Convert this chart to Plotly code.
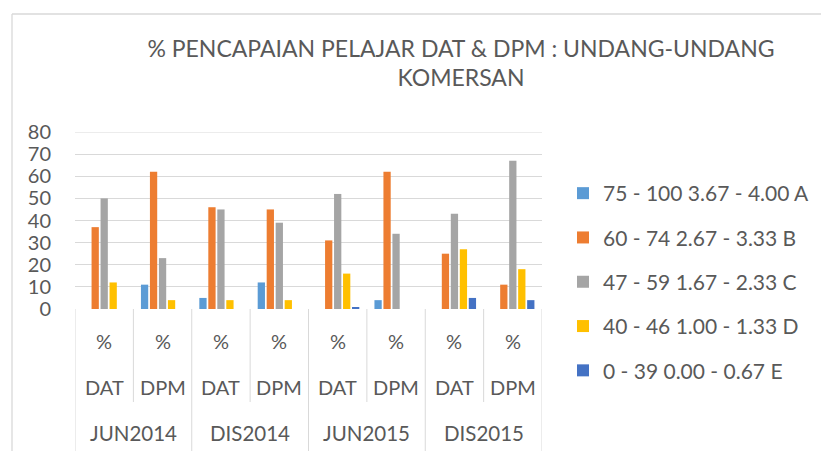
import plotly.graph_objects as go

# ---- data ----
periods = ["JUN2014", "JUN2014", "DIS2014", "DIS2014", "JUN2015", "JUN2015", "DIS2015", "DIS2015"]
programs = ["DAT", "DPM", "DAT", "DPM", "DAT", "DPM", "DAT", "DPM"]
top_row = ["%", "%", "%", "%", "%", "%", "%", "%"]
period_labels = ["JUN2014", "DIS2014", "JUN2015", "DIS2015"]

series_names = [
    "75 - 100 3.67 - 4.00 A",
    "60 - 74 2.67 - 3.33 B",
    "47 - 59 1.67 - 2.33 C",
    "40 - 46 1.00 - 1.33 D",
    "0 - 39 0.00 - 0.67 E",
]
grade_a = [0, 11, 5, 12, 0, 4, 0, 0]
grade_b = [37, 62, 46, 45, 31, 62, 25, 11]
grade_c = [50, 23, 45, 39, 52, 34, 43, 67]
grade_d = [12, 4, 4, 4, 16, 0, 27, 18]
grade_e = [0, 0, 0, 0, 0.6, 0, 5, 4]
series_values = [grade_a, grade_b, grade_c, grade_d, grade_e]
colors = ["#5B9BD5", "#ED7D31", "#A5A5A5", "#FFC000", "#4472C4"]

title_text = "% PENCAPAIAN PELAJAR DAT & DPM : UNDANG-UNDANG<br>KOMERSAN"
y_max = 80

# ---- figure ----
W, H = 821, 451
L, R, T, B = 75, 279, 132, 142
plot_h = H - T - B
FONT = "Lato, 'Open Sans', sans-serif"
TXT = "#595959"
GRID = "#D9D9D9"

cats = [f"{p} {g}" for p, g in zip(periods, programs)]

fig = go.Figure()
for i, (name, vals, col) in enumerate(zip(series_names, series_values, colors)):
    fig.add_trace(go.Bar(
        x=cats, y=vals, name=name, marker_color=col,
        marker_line_width=0, legendgroup=f"g{i}",
    ))

def py(pix):
    return (H - B - pix) / plot_h

shapes = []
# top gridline (at the edge of the plot area)
shapes.append(dict(type="line", xref="paper", yref="y", x0=0, x1=1, y0=y_max, y1=y_max,
                   line=dict(color=GRID, width=1), layer="below"))
# category table separators
for k in range(len(cats) + 1):
    xb = k - 0.5
    y1 = py(470) if k % 2 == 0 else py(402)
    shapes.append(dict(type="line", xref="x", yref="paper", x0=xb, x1=xb,
                       y0=0, y1=y1, line=dict(color=GRID, width=1)))
# outer chart border (left + top visible)
bx = (12 - L) / (W - L - R)
shapes.append(dict(type="line", xref="paper", yref="paper", x0=bx, x1=bx,
                   y0=py(470), y1=py(14), line=dict(color=GRID, width=1.3)))
shapes.append(dict(type="line", xref="paper", yref="paper", x0=bx, x1=2.0,
                   y0=py(14), y1=py(14), line=dict(color=GRID, width=1.3)))

annotations = []
for k in range(len(cats)):
    annotations.append(dict(x=k, xref="x", y=py(341), yref="paper", text=top_row[k],
                            showarrow=False, font=dict(family=FONT, size=20, color=TXT),
                            yanchor="middle", xanchor="center"))
    annotations.append(dict(x=k, xref="x", y=py(387), yref="paper", text=programs[k],
                            showarrow=False, font=dict(family=FONT, size=20, color=TXT),
                            yanchor="middle", xanchor="center"))
for j, p in enumerate(period_labels):
    annotations.append(dict(x=2 * j + 0.5, xref="x", y=py(433), yref="paper", text=p,
                            showarrow=False, font=dict(family=FONT, size=20.5, color=TXT),
                            yanchor="middle", xanchor="center"))

fig.update_layout(
    width=W, height=H, autosize=False,
    margin=dict(l=L, r=R, t=T, b=B, autoexpand=False),
    paper_bgcolor="white", plot_bgcolor="white",
    title=dict(text=title_text, x=461 / W, xref="container", xanchor="center",
               y=1 - 56.5 / H, yref="container", yanchor="middle",
               font=dict(family=FONT, size=23, color=TXT)),
    barmode="group", bargap=0.23, bargroupgap=0.19,
    xaxis=dict(type="category", range=[-0.5, 7.5], showticklabels=False,
               showgrid=False, zeroline=False, showline=False, ticks=""),
    yaxis=dict(range=[0, y_max], dtick=10, showgrid=True, gridcolor=GRID, gridwidth=1,
               zeroline=False, showline=False, ticks="",
               tickfont=dict(family=FONT, size=20, color=TXT), ticklabelstandoff=23),
    legend=dict(x=(563 - L) / (W - L - R), xanchor="left", y=py(173), yanchor="top",
                font=dict(family=FONT, size=21, color=TXT), tracegroupgap=14,
                bgcolor="rgba(0,0,0,0)", maxheight=420),
    showlegend=True,
    shapes=shapes, annotations=annotations,
)

fig.write_html("out.html", config={"displayModeBar": False},
               post_script="document.body.style.margin='0';")
